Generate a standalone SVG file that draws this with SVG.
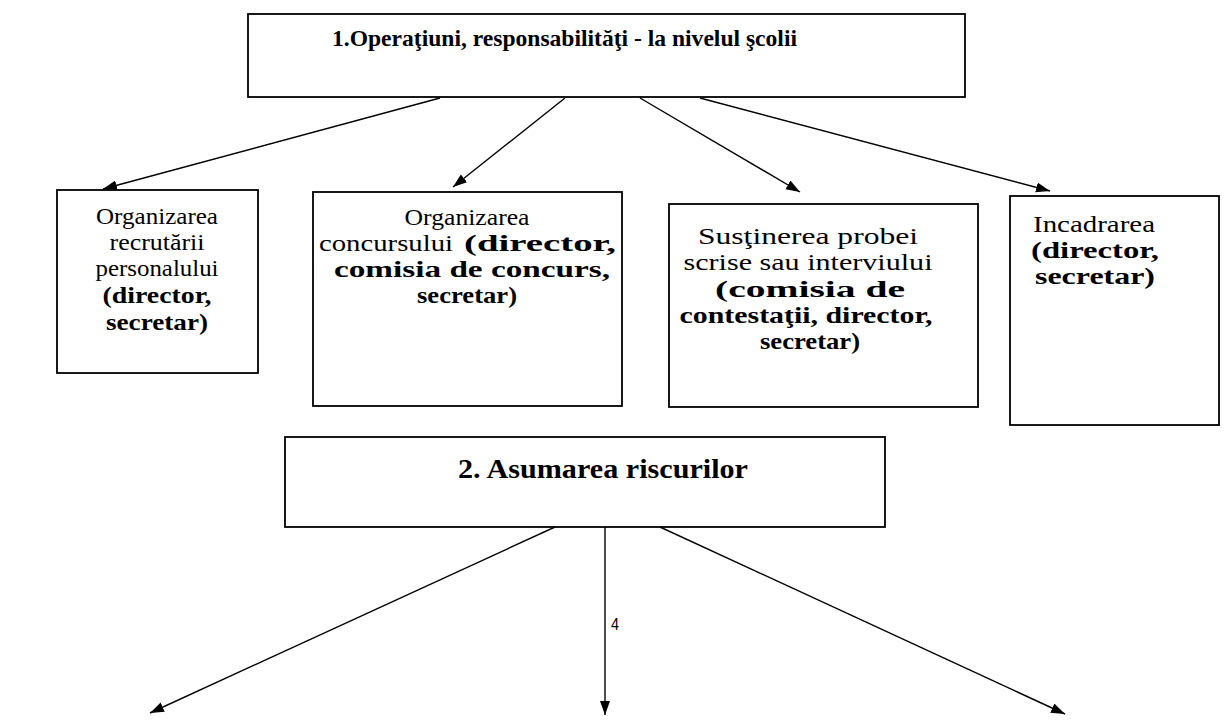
<svg xmlns="http://www.w3.org/2000/svg" width="1224" height="721" viewBox="0 0 1224 721">
<style>
.box{fill:#fff;stroke:#000;stroke-width:1.8}
.t{font-family:"Liberation Serif","Times New Roman",serif;font-size:24px;fill:#000;text-anchor:middle}
.b{font-weight:bold}
.h{font-family:"Liberation Serif","Times New Roman",serif;font-weight:bold;fill:#000}
.c{stroke:#000;stroke-width:1.4;fill:none;marker-end:url(#ah)}
.lbl{font-family:"Liberation Sans",Arial,sans-serif;font-size:16px;fill:#000}
</style>
<defs>
<marker id="ah" markerUnits="userSpaceOnUse" markerWidth="15" markerHeight="12" refX="14" refY="5" orient="auto">
<path d="M0,0 L14,5 L0,10 Z" fill="#000"/>
</marker>
</defs>
<rect width="1224" height="721" fill="#fff"/>
<g id="n-top">
<rect class="box" x="248" y="14" width="717" height="83"/>
<text class="h" x="332" y="46" font-size="23.5" textLength="465" lengthAdjust="spacingAndGlyphs">1.Operaţiuni, responsabilităţi - la nivelul şcolii</text>
</g>
<g id="n-recrutare">
<rect class="box" x="57" y="190" width="201" height="183"/>
<text class="t" x="157" y="224" textLength="122" lengthAdjust="spacingAndGlyphs">Organizarea</text>
<text class="t" x="157" y="250" textLength="95" lengthAdjust="spacingAndGlyphs">recrutării</text>
<text class="t" x="157" y="276" textLength="123" lengthAdjust="spacingAndGlyphs">personalului</text>
<text class="t b" x="157" y="303" textLength="109" lengthAdjust="spacingAndGlyphs">(director,</text>
<text class="t b" x="157" y="330" textLength="102" lengthAdjust="spacingAndGlyphs">secretar)</text>
</g>
<g id="n-concurs">
<rect class="box" x="313" y="192" width="309" height="214"/>
<text class="t" x="467" y="225" textLength="125" lengthAdjust="spacingAndGlyphs">Organizarea</text>
<text class="t" x="319" y="251" style="text-anchor:start" textLength="134" lengthAdjust="spacingAndGlyphs">concursului</text>
<text class="t b" x="616" y="251" style="text-anchor:end" textLength="152" lengthAdjust="spacingAndGlyphs">(director,</text>
<text class="t b" x="472" y="277" textLength="276" lengthAdjust="spacingAndGlyphs">comisia de concurs,</text>
<text class="t b" x="467" y="303" textLength="100" lengthAdjust="spacingAndGlyphs">secretar)</text>
</g>
<g id="n-proba">
<rect class="box" x="669" y="204" width="309" height="203"/>
<text class="t" x="808" y="244" textLength="220" lengthAdjust="spacingAndGlyphs">Susţinerea probei</text>
<text class="t" x="808" y="270" textLength="249" lengthAdjust="spacingAndGlyphs">scrise sau interviului</text>
<text class="t b" x="810" y="297" textLength="190" lengthAdjust="spacingAndGlyphs">(comisia de</text>
<text class="t b" x="806" y="323" textLength="253" lengthAdjust="spacingAndGlyphs">contestaţii, director,</text>
<text class="t b" x="810" y="349" textLength="100" lengthAdjust="spacingAndGlyphs">secretar)</text>
</g>
<g id="n-incadrare">
<rect class="box" x="1010" y="196" width="209" height="229"/>
<text class="t" x="1094" y="232" textLength="122" lengthAdjust="spacingAndGlyphs">Incadrarea</text>
<text class="t b" x="1095" y="258" textLength="128" lengthAdjust="spacingAndGlyphs">(director,</text>
<text class="t b" x="1095" y="284" textLength="120" lengthAdjust="spacingAndGlyphs">secretar)</text>
</g>
<g id="n-riscuri">
<rect class="box" x="285" y="437" width="600" height="90"/>
<text class="h" x="458" y="478" font-size="27" textLength="290" lengthAdjust="spacingAndGlyphs">2. Asumarea riscurilor</text>
</g>
<g id="connectors">
<line class="c" x1="440" y1="98" x2="103" y2="189"/>
<line class="c" x1="565" y1="98" x2="453" y2="187"/>
<line class="c" x1="640" y1="98" x2="800" y2="192"/>
<line class="c" x1="700" y1="98" x2="1050" y2="191"/>
<line class="c" x1="555" y1="527" x2="150" y2="713"/>
<line class="c" x1="605" y1="527" x2="605" y2="715"/>
<line class="c" x1="660" y1="527" x2="1065" y2="714"/>
<text class="lbl" x="611" y="630" textLength="8" lengthAdjust="spacingAndGlyphs">4</text>
</g>
</svg>
